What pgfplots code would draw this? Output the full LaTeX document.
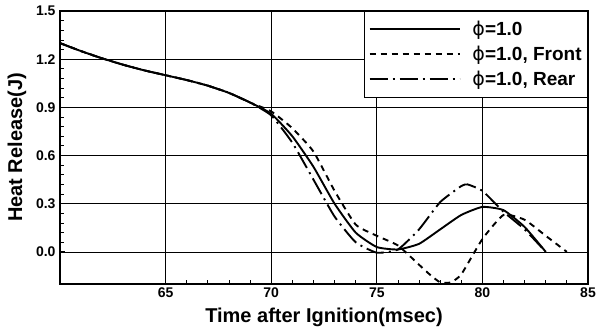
\documentclass[border=0pt]{standalone}
\usepackage{pgfplots}
\pgfplotsset{compat=1.18}
\usepackage{fontspec}
\setmainfont{Liberation Sans}
\newfontfamily\sym{DejaVu Sans}
\newcommand{\ph}{{\sym\mdseries ϕ}}
\begin{document}
\begin{tikzpicture}
\path[use as bounding box] (-60pt,-50pt) rectangle (536pt,284pt);
\begin{axis}[
  at={(0pt,0pt)}, anchor=south west,
  scale only axis, width=528pt, height=273pt,
  xmin=60, xmax=85, ymin=-0.2, ymax=1.5,
  xtick={65,70,75,80,85}, ytick={0,0.3,0.6,0.9,1.2,1.5},
  minor x tick num=4, minor y tick num=4,
  tick align=inside, tick pos=left,
  major tick length=5pt, minor tick length=4pt,
  every tick/.style={black, line width=0.8pt},
  grid=major, major grid style={black, line width=0.7pt},
  axis line style={line width=2.4pt},
  /pgf/number format/assume math mode=true,
  yticklabel style={/pgf/number format/fixed, /pgf/number format/fixed zerofill, /pgf/number format/precision=1, xshift=-1pt},
  tick label style={font=\fontsize{14}{16}\selectfont\bfseries},
  xlabel={Time after Ignition(msec)}, ylabel={Heat Release(J)},
  label style={font=\fontsize{20}{22}\selectfont\bfseries},
  xlabel style={at={(axis description cs:0.5,-0.121)}, anchor=center},
  ylabel style={at={(axis description cs:-0.0814,0.5)}, anchor=center},
  legend style={at={(1,1)}, anchor=north east, draw=black, line width=0.8pt,
    fill=white, font=\fontsize{19}{21}\selectfont\bfseries, legend cell align=left,
    inner xsep=4pt, inner ysep=8pt, row sep=5pt},
  legend image code/.code={\draw[#1] (0pt,0pt) -- (90pt,0pt); \path (100pt,0pt);},
]
\addplot[black, line width=1.9pt, smooth, tension=0.3] coordinates {
(60,1.30) (61,1.25) (62,1.205) (63,1.165) (64,1.13) (65,1.10) (66,1.07) (67,1.035) (68,0.99) (69,0.93) (70,0.86)
(71,0.72) (72,0.53) (73,0.30) (74,0.12) (75,0.03) (76,0.015) (77,0.05) (78,0.14) (79,0.23) (80,0.28) (81,0.26) (82,0.155) (83,0.0)};
\addlegendentry{\ph=1.0}
\addplot[black, line width=1.9pt, smooth, tension=0.3, dash pattern=on 6pt off 5pt] coordinates {
(60,1.30) (61,1.25) (62,1.205) (63,1.165) (64,1.13) (65,1.10) (66,1.07) (67,1.035) (68,0.99) (69,0.93) (70,0.875)
(71,0.77) (72,0.625) (73,0.38) (74,0.17) (75,0.10) (76,0.04) (77,-0.08) (77.5,-0.14) (78,-0.19) (78.5,-0.19) (79,-0.14) (80,0.08) (81,0.23) (82,0.20) (83,0.10) (84,0.0)};
\addlegendentry{\ph=1.0, Front}
\addplot[black, line width=1.9pt, smooth, tension=0.3, dash pattern=on 18pt off 5pt on 2pt off 5pt] coordinates {
(60,1.30) (61,1.25) (62,1.205) (63,1.165) (64,1.13) (65,1.10) (66,1.07) (67,1.035) (68,0.99) (69,0.93) (70,0.85)
(71,0.68) (72,0.45) (73,0.22) (74,0.06) (75,-0.005) (76,0.015) (77,0.14) (78,0.31) (79,0.41) (79.3,0.42) (80,0.38) (81,0.25) (82,0.14) (83,0.0)};
\addlegendentry{\ph=1.0, Rear}
\end{axis}
\end{tikzpicture}
\end{document}
